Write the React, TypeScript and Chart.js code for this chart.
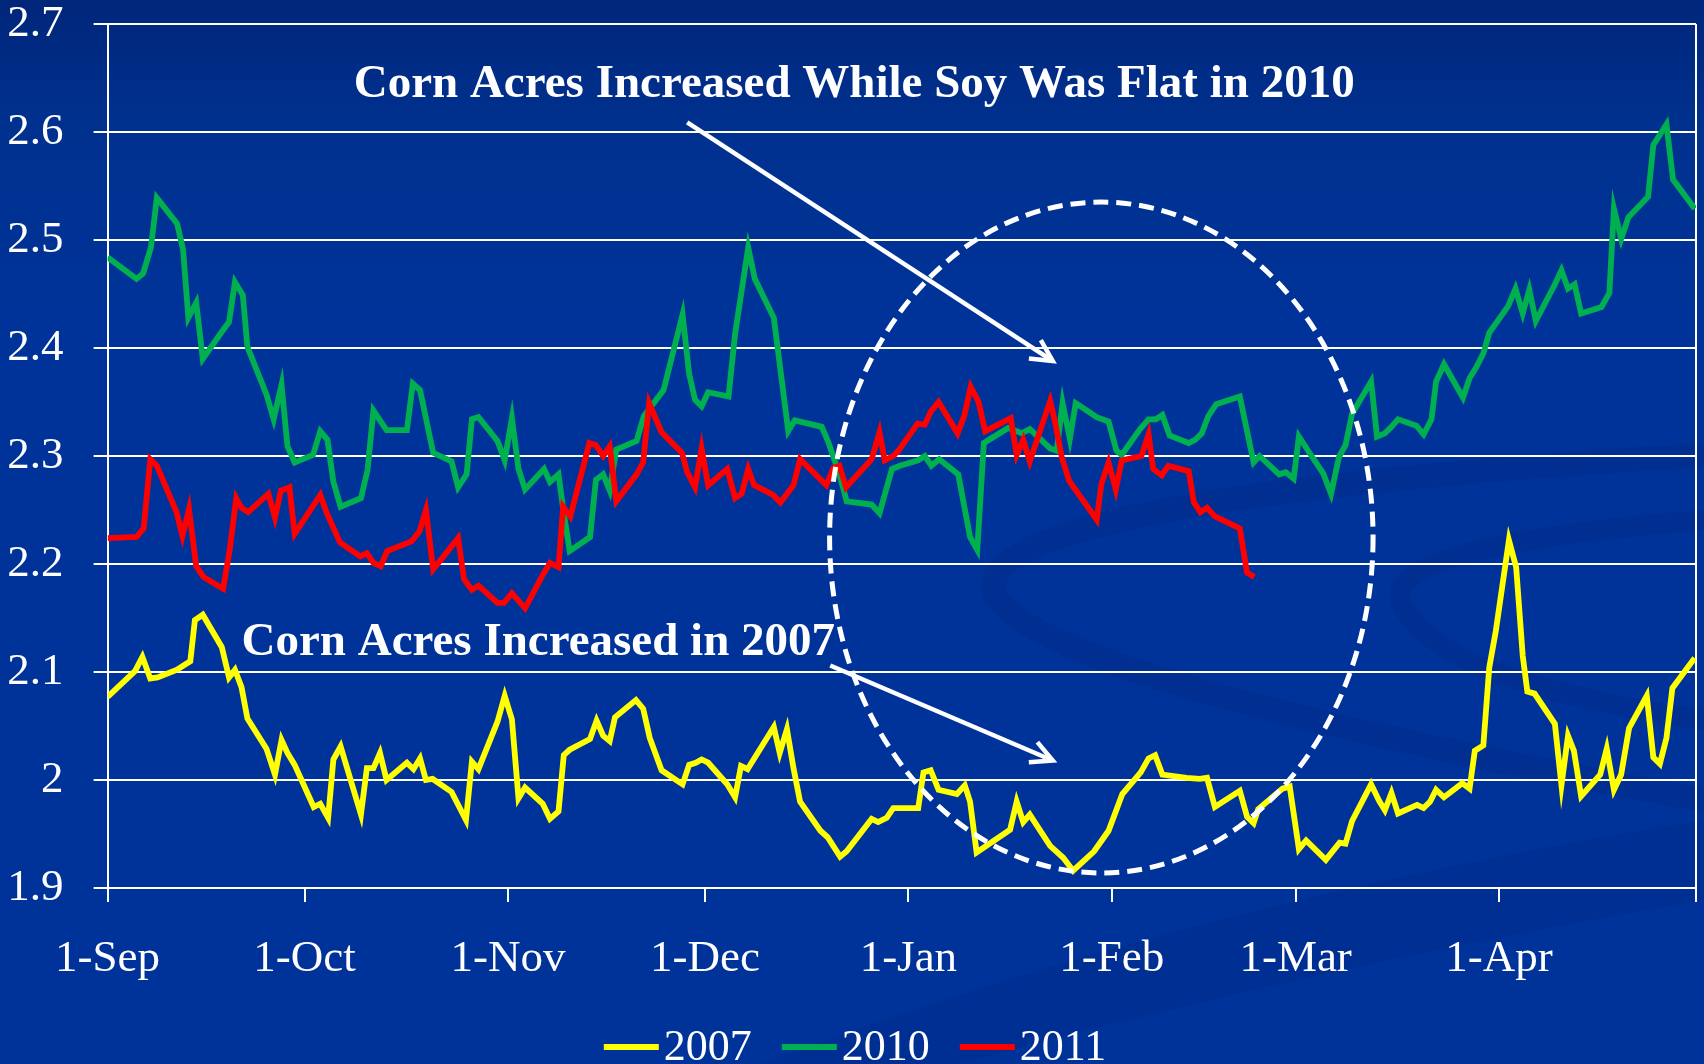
import React, { useEffect, useRef } from 'react';
import { Chart, registerables } from 'chart.js';

Chart.register(...registerables);

// ---- axes ----
const xTickDays = [0, 30, 61, 91, 122, 153, 181, 212, 242];
const xTickLabels = ['1-Sep', '1-Oct', '1-Nov', '1-Dec', '1-Jan', '1-Feb', '1-Mar', '1-Apr', ''];
const yTickValues = [1.9, 2.0, 2.1, 2.2, 2.3, 2.4, 2.5, 2.6, 2.7];
const yTickLabels = ['1.9', '2', '2.1', '2.2', '2.3', '2.4', '2.5', '2.6', '2.7'];

// ---- series ----
const seriesNames = ['2007', '2010', '2011'];
const seriesColors = ['#FFFF00', '#00B050', '#FF0000'];

// days since 1-Sep
const days2007 = [0, 4.2, 5.3, 6.5, 7.6, 10.5, 12.6, 13.3, 14.5, 17.4, 18.5, 19.4, 20.4, 21.3, 24.2, 25.5, 26.5, 27.4, 28.5, 31.4, 32.4, 33.6, 34.4, 35.5, 38.6, 39.5, 40.5, 41.5, 42.5, 45.6, 46.6, 47.6, 48.5, 49.5, 52.4, 54.6, 55.5, 56.5, 59.4, 60.5, 61.6, 62.6, 63.6, 66.3, 67.4, 68.7, 69.5, 70.4, 73.5, 74.5, 75.5, 76.5, 77.3, 80.5, 81.6, 82.6, 84.4, 87.6, 88.6, 89.6, 90.5, 91.5, 94.4, 95.6, 96.5, 97.5, 101.5, 102.4, 103.5, 104.5, 105.5, 108.6, 109.7, 111.6, 112.6, 116.4, 117.4, 118.7, 119.7, 123.5, 124.3, 125.4, 126.6, 129.4, 130.6, 131.4, 132.4, 137.5, 138.5, 139.5, 140.5, 143.6, 145.6, 147.1, 150.3, 152.5, 154.6, 157.4, 158.6, 159.6, 160.7, 164.4, 166.4, 167.5, 168.7, 172.5, 173.6, 174.6, 175.3, 179.0, 180.1, 181.5, 182.6, 185.6, 187.7, 188.6, 189.6, 192.5, 193.7, 194.6, 195.6, 196.6, 199.5, 200.5, 201.5, 202.4, 203.6, 206.4, 207.5, 208.3, 209.6, 210.5, 211.5, 213.5, 214.6, 215.6, 216.3, 217.4, 220.5, 221.5, 222.5, 223.4, 224.5, 227.4, 228.4, 229.5, 230.6, 231.8, 234.5, 235.5, 236.5, 237.5, 238.4, 241.8];
const values2007 = [2.077, 2.101, 2.114, 2.094, 2.095, 2.102, 2.110, 2.148, 2.153, 2.123, 2.095, 2.102, 2.086, 2.057, 2.029, 2.005, 2.037, 2.025, 2.014, 1.975, 1.978, 1.965, 2.019, 2.031, 1.968, 2.011, 2.011, 2.025, 2.000, 2.016, 2.010, 2.020, 2.000, 2.001, 1.989, 1.963, 2.017, 2.010, 2.054, 2.078, 2.056, 1.983, 1.993, 1.978, 1.964, 1.971, 2.023, 2.028, 2.038, 2.055, 2.041, 2.036, 2.058, 2.074, 2.066, 2.039, 2.009, 1.996, 2.014, 2.016, 2.019, 2.016, 1.996, 1.984, 2.013, 2.010, 2.049, 2.025, 2.047, 2.011, 1.980, 1.953, 1.947, 1.929, 1.934, 1.964, 1.961, 1.965, 1.974, 1.974, 2.007, 2.009, 1.991, 1.987, 1.995, 1.980, 1.933, 1.954, 1.980, 1.961, 1.968, 1.939, 1.928, 1.916, 1.934, 1.953, 1.987, 2.007, 2.020, 2.023, 2.005, 2.002, 2.001, 2.002, 1.975, 1.990, 1.966, 1.960, 1.973, 1.992, 1.994, 1.936, 1.944, 1.926, 1.942, 1.941, 1.962, 1.996, 1.981, 1.972, 1.988, 1.969, 1.977, 1.974, 1.980, 1.991, 1.984, 1.997, 1.992, 2.027, 2.032, 2.104, 2.138, 2.222, 2.197, 2.115, 2.082, 2.080, 2.052, 1.995, 2.041, 2.027, 1.985, 2.005, 2.029, 1.991, 2.005, 2.048, 2.078, 2.021, 2.015, 2.039, 2.085, 2.113];

const days2010 = [0, 4.4, 5.4, 6.6, 7.5, 10.6, 11.5, 12.3, 13.5, 14.5, 17.4, 18.5, 19.4, 20.6, 21.3, 24.2, 25.3, 26.5, 27.4, 28.5, 31.3, 32.4, 33.5, 34.4, 35.5, 38.6, 39.6, 40.5, 42.5, 45.6, 46.5, 47.6, 49.6, 52.4, 53.4, 54.7, 55.5, 56.5, 59.4, 60.5, 61.6, 62.6, 63.6, 66.5, 67.4, 68.7, 69.5, 70.4, 73.5, 74.4, 75.5, 76.5, 77.5, 80.6, 81.7, 84.7, 87.6, 88.6, 89.5, 90.5, 91.5, 94.6, 95.6, 97.6, 98.6, 101.5, 103.7, 104.7, 108.8, 109.8, 111.5, 112.6, 116.4, 117.6, 119.5, 120.7, 123.5, 124.5, 125.5, 126.7, 129.6, 131.4, 132.5, 133.5, 137.2, 139.3, 140.5, 143.6, 144.6, 145.5, 146.6, 147.5, 150.7, 152.5, 153.7, 154.5, 157.3, 158.6, 159.7, 160.7, 161.8, 164.7, 165.7, 166.7, 167.7, 168.9, 172.5, 174.6, 175.5, 178.5, 179.5, 180.7, 181.5, 183.1, 185.2, 186.4, 187.6, 188.6, 189.6, 192.5, 193.4, 194.6, 195.6, 196.6, 199.4, 200.5, 201.7, 202.4, 203.6, 206.5, 207.5, 208.6, 209.6, 210.5, 213.4, 214.5, 215.6, 216.6, 217.6, 220.5, 221.5, 222.5, 223.5, 224.5, 227.6, 228.8, 229.5, 230.6, 231.7, 234.7, 235.5, 237.5, 238.5, 241.8];
const values2010 = [2.484, 2.464, 2.469, 2.493, 2.539, 2.515, 2.491, 2.428, 2.442, 2.390, 2.415, 2.424, 2.461, 2.449, 2.401, 2.357, 2.334, 2.366, 2.309, 2.294, 2.301, 2.323, 2.315, 2.276, 2.253, 2.261, 2.287, 2.342, 2.324, 2.324, 2.367, 2.361, 2.303, 2.295, 2.271, 2.283, 2.334, 2.336, 2.314, 2.296, 2.335, 2.288, 2.269, 2.288, 2.276, 2.283, 2.247, 2.212, 2.225, 2.278, 2.283, 2.268, 2.306, 2.314, 2.337, 2.361, 2.431, 2.376, 2.352, 2.346, 2.359, 2.355, 2.413, 2.493, 2.464, 2.428, 2.323, 2.333, 2.327, 2.313, 2.283, 2.258, 2.255, 2.247, 2.288, 2.291, 2.296, 2.300, 2.291, 2.297, 2.283, 2.225, 2.213, 2.312, 2.326, 2.321, 2.325, 2.307, 2.305, 2.349, 2.316, 2.349, 2.336, 2.332, 2.305, 2.301, 2.325, 2.334, 2.334, 2.338, 2.319, 2.312, 2.315, 2.321, 2.337, 2.348, 2.355, 2.294, 2.300, 2.283, 2.285, 2.279, 2.318, 2.303, 2.284, 2.265, 2.299, 2.310, 2.339, 2.369, 2.318, 2.321, 2.327, 2.334, 2.328, 2.320, 2.334, 2.369, 2.385, 2.354, 2.372, 2.383, 2.395, 2.414, 2.439, 2.455, 2.432, 2.454, 2.425, 2.459, 2.472, 2.455, 2.459, 2.432, 2.438, 2.451, 2.529, 2.501, 2.521, 2.540, 2.588, 2.607, 2.556, 2.529];

const days2011 = [0, 4.4, 5.5, 6.5, 7.5, 10.5, 11.4, 12.4, 13.5, 14.6, 17.6, 18.6, 19.6, 20.4, 21.4, 24.5, 25.5, 26.4, 27.7, 28.5, 32.4, 33.4, 35.4, 38.5, 39.5, 40.5, 41.6, 42.6, 46.3, 47.5, 48.5, 49.6, 53.4, 54.3, 55.5, 56.5, 59.4, 60.4, 61.6, 63.6, 66.4, 67.4, 68.7, 69.4, 70.5, 73.4, 74.4, 75.5, 76.5, 77.5, 80.6, 81.6, 82.5, 84.4, 87.5, 88.3, 89.5, 90.5, 91.5, 94.4, 95.6, 96.6, 97.6, 98.5, 101.4, 102.5, 104.5, 105.5, 109.5, 110.6, 111.5, 112.5, 116.4, 117.6, 118.4, 119.7, 120.5, 123.4, 124.5, 125.4, 126.6, 129.5, 130.5, 131.5, 132.7, 133.7, 137.6, 138.5, 139.5, 140.5, 143.6, 144.3, 145.4, 146.5, 150.7, 151.4, 152.5, 153.6, 154.5, 157.5, 158.6, 159.3, 160.6, 161.6, 164.7, 165.5, 166.5, 167.5, 168.7, 172.5, 173.6, 174.7];
const values2011 = [2.224, 2.225, 2.233, 2.297, 2.291, 2.248, 2.226, 2.251, 2.198, 2.188, 2.177, 2.213, 2.261, 2.252, 2.248, 2.265, 2.243, 2.268, 2.271, 2.228, 2.264, 2.247, 2.220, 2.207, 2.210, 2.201, 2.198, 2.212, 2.221, 2.230, 2.250, 2.195, 2.224, 2.186, 2.176, 2.180, 2.164, 2.164, 2.173, 2.159, 2.191, 2.201, 2.197, 2.253, 2.244, 2.312, 2.310, 2.300, 2.309, 2.258, 2.283, 2.294, 2.349, 2.322, 2.303, 2.285, 2.271, 2.307, 2.273, 2.288, 2.261, 2.265, 2.288, 2.273, 2.264, 2.257, 2.273, 2.297, 2.273, 2.289, 2.291, 2.271, 2.297, 2.322, 2.296, 2.300, 2.305, 2.330, 2.329, 2.341, 2.350, 2.321, 2.337, 2.364, 2.350, 2.323, 2.335, 2.301, 2.315, 2.295, 2.351, 2.333, 2.298, 2.277, 2.241, 2.274, 2.294, 2.269, 2.296, 2.300, 2.320, 2.288, 2.282, 2.291, 2.286, 2.257, 2.248, 2.252, 2.244, 2.233, 2.192, 2.188];

// ---- annotations (in data coordinates: day, value) ----
const noteTexts = ['Corn Acres Increased While Soy Was Flat in 2010', 'Corn Acres Increased in 2007'];
const noteAnchors = [{ x: 37.5, y: 2.632 }, { x: 20.4, y: 2.116 }];
const arrowStarts = [{ x: 88.3, y: 2.609 }, { x: 110.1, y: 2.106 }];
const arrowEnds = [{ x: 144.0, y: 2.388 }, { x: 144.0, y: 2.018 }];
const ellipseCenter = { x: 151.4, y: 2.2245 };
const ellipseRadius = { x: 41.4, y: 0.3106 };

const FONT = '"Liberation Serif", "Times New Roman", Times, serif';
const W = 1704;
const H = 1064;

const backgroundPlugin = {
  id: 'slideBackground',
  beforeDraw(chart: any) {
    const { ctx, width, height } = chart;
    ctx.save();
    const g = ctx.createLinearGradient(0, 0, 0, height);
    g.addColorStop(0, '#00267a');
    g.addColorStop(0.12, '#00318f');
    g.addColorStop(0.3, '#003399');
    g.addColorStop(1, '#003399');
    ctx.fillStyle = g;
    ctx.fillRect(0, 0, width, height);

    // faint decorative swooshes
    ctx.strokeStyle = 'rgba(0, 36, 128, 0.3)';
    ctx.lineCap = 'round';
    ctx.lineWidth = 24;
    ctx.beginPath();
    ctx.moveTo(1704, 455);
    ctx.quadraticCurveTo(960, 500, 995, 595);
    ctx.quadraticCurveTo(1040, 680, 1704, 800);
    ctx.stroke();

    ctx.lineWidth = 20;
    ctx.beginPath();
    ctx.moveTo(1704, 520);
    ctx.quadraticCurveTo(1390, 545, 1400, 600);
    ctx.quadraticCurveTo(1430, 680, 1704, 720);
    ctx.stroke();

    ctx.fillStyle = 'rgba(0, 38, 128, 0.22)';
    ctx.beginPath();
    ctx.moveTo(760, 1064);
    ctx.quadraticCurveTo(1200, 900, 1704, 820);
    ctx.lineTo(1704, 900);
    ctx.quadraticCurveTo(1300, 970, 960, 1064);
    ctx.closePath();
    ctx.fill();
    ctx.restore();
  },
  beforeDatasetsDraw(chart: any) {
    const { ctx, chartArea } = chart;
    ctx.save();
    ctx.strokeStyle = '#ffffff';
    ctx.lineWidth = 2;
    ctx.beginPath();
    ctx.moveTo(chartArea.right, chartArea.top);
    ctx.lineTo(chartArea.right, chartArea.bottom);
    ctx.stroke();
    ctx.restore();
  },
};

const annotationPlugin = {
  id: 'notes',
  afterDatasetsDraw(chart: any) {
    const { ctx } = chart;
    const xs = chart.scales.x;
    const ys = chart.scales.y;
    const px = (p: { x: number; y: number }) => [xs.getPixelForValue(p.x), ys.getPixelForValue(p.y)];
    ctx.save();

    // dashed ellipse
    const [cx, cy] = px(ellipseCenter);
    const rx = Math.abs(xs.getPixelForValue(ellipseCenter.x + ellipseRadius.x) - cx);
    const ry = Math.abs(ys.getPixelForValue(ellipseCenter.y + ellipseRadius.y) - cy);
    ctx.strokeStyle = '#ffffff';
    ctx.lineWidth = 5;
    ctx.setLineDash([15, 8]);
    ctx.beginPath();
    ctx.ellipse(cx, cy, rx, ry, 0, 0, Math.PI * 2);
    ctx.stroke();
    ctx.setLineDash([]);

    // arrows
    ctx.lineWidth = 4.5;
    ctx.lineCap = 'butt';
    ctx.lineJoin = 'miter';
    for (let i = 0; i < arrowStarts.length; i++) {
      const [x0, y0] = px(arrowStarts[i]);
      const [x1, y1] = px(arrowEnds[i]);
      const ang = Math.atan2(y1 - y0, x1 - x0);
      ctx.beginPath();
      ctx.moveTo(x0, y0);
      ctx.lineTo(x1 - Math.cos(ang) * 2, y1 - Math.sin(ang) * 2);
      ctx.stroke();
      const L = 24;
      const a = (27 * Math.PI) / 180;
      ctx.beginPath();
      ctx.moveTo(x1 - L * Math.cos(ang - a), y1 - L * Math.sin(ang - a));
      ctx.lineTo(x1, y1);
      ctx.lineTo(x1 - L * Math.cos(ang + a), y1 - L * Math.sin(ang + a));
      ctx.stroke();
    }

    // texts
    ctx.fillStyle = '#ffffff';
    ctx.font = `bold 47px ${FONT}`;
    ctx.textAlign = 'left';
    ctx.textBaseline = 'alphabetic';
    noteTexts.forEach((t, i) => {
      const [tx, ty] = px(noteAnchors[i]);
      ctx.fillText(t, tx, ty);
    });
    ctx.restore();
  },
  afterDraw(chart: any) {
    // legend at the bottom
    const { ctx, width } = chart;
    ctx.save();
    ctx.font = `44px ${FONT}`;
    ctx.textBaseline = 'alphabetic';
    ctx.textAlign = 'left';
    const markerW = 55;
    const gap = 5;
    const itemGap = 30;
    const widths = seriesNames.map((n) => ctx.measureText(n).width);
    const total = widths.reduce((s, w) => s + markerW + gap + w, 0) + itemGap * (seriesNames.length - 1);
    let x = (width - total) / 2 + 3;
    seriesNames.forEach((n, i) => {
      ctx.strokeStyle = seriesColors[i];
      ctx.lineWidth = 6;
      ctx.beginPath();
      ctx.moveTo(x, 1047);
      ctx.lineTo(x + markerW, 1047);
      ctx.stroke();
      ctx.fillStyle = '#ffffff';
      ctx.fillText(n, x + markerW + gap, 1060);
      x += markerW + gap + widths[i] + itemGap;
    });
    ctx.restore();
  },
};

export default function App() {
  const ref = useRef<HTMLCanvasElement | null>(null);

  useEffect(() => {
    document.body.style.margin = '0';
    const canvas = ref.current;
    if (!canvas) return;

    const makeData = (days: number[], vals: number[]) => days.map((d, i) => ({ x: d, y: vals[i] }));
    const allDays = [days2007, days2010, days2011];
    const allVals = [values2007, values2010, values2011];
    const drawOrder = [2, 1, 0];

    const chart = new Chart(canvas, {
      type: 'line',
      data: {
        datasets: seriesNames.map((name, i) => ({
          label: name,
          data: makeData(allDays[i], allVals[i]),
          borderColor: seriesColors[i],
          backgroundColor: seriesColors[i],
          borderWidth: 5.8,
          pointRadius: 0,
          tension: 0,
          fill: false,
          order: drawOrder[i],
        })),
      },
      options: {
        responsive: false,
        animation: false,
        devicePixelRatio: 1,
        layout: { padding: { top: 24, right: 8, bottom: 0, left: 0 } },
        plugins: {
          legend: { display: false },
          tooltip: { enabled: false },
        },
        scales: {
          x: {
            type: 'linear',
            min: 0,
            max: 242,
            afterBuildTicks: (scale: any) => {
              scale.ticks = xTickDays.map((v) => ({ value: v }));
            },
            afterFit: (scale: any) => {
              scale.height = 176;
              scale.paddingLeft = 0;
              scale.paddingRight = 0;
            },
            grid: {
              drawOnChartArea: false,
              drawTicks: true,
              tickLength: 14,
              color: '#ffffff',
              lineWidth: 2,
            },
            border: { display: true, color: '#ffffff', width: 2 },
            ticks: {
              autoSkip: false,
              maxRotation: 0,
              minRotation: 0,
              padding: 30,
              color: '#ffffff',
              font: { family: FONT, size: 45 },
              callback: (value: any) => {
                const idx = xTickDays.indexOf(Number(value));
                return idx >= 0 ? xTickLabels[idx] : '';
              },
            },
          },
          y: {
            min: 1.9,
            max: 2.7,
            afterBuildTicks: (scale: any) => {
              scale.ticks = yTickValues.map((v) => ({ value: v }));
            },
            afterFit: (scale: any) => {
              scale.width = 107.6;
              scale.paddingTop = 0;
              scale.paddingBottom = 0;
            },
            grid: {
              drawOnChartArea: true,
              drawTicks: true,
              tickLength: 14,
              color: '#ffffff',
              lineWidth: 2,
            },
            border: { display: true, color: '#ffffff', width: 2 },
            ticks: {
              padding: 30,
              color: '#ffffff',
              font: { family: FONT, size: 45 },
              callback: (value: any) => {
                const idx = yTickValues.findIndex((v) => Math.abs(v - Number(value)) < 1e-6);
                return idx >= 0 ? yTickLabels[idx] : '';
              },
            },
          },
        },
      } as any,
      plugins: [backgroundPlugin, annotationPlugin],
    });

    return () => {
      chart.destroy();
    };
  }, []);

  return (
    <div style={{ position: 'absolute', left: 0, top: 0, width: W, height: H, overflow: 'hidden' }}>
      <canvas ref={ref} width={W} height={H} style={{ display: 'block', width: W, height: H }} />
    </div>
  );
}
